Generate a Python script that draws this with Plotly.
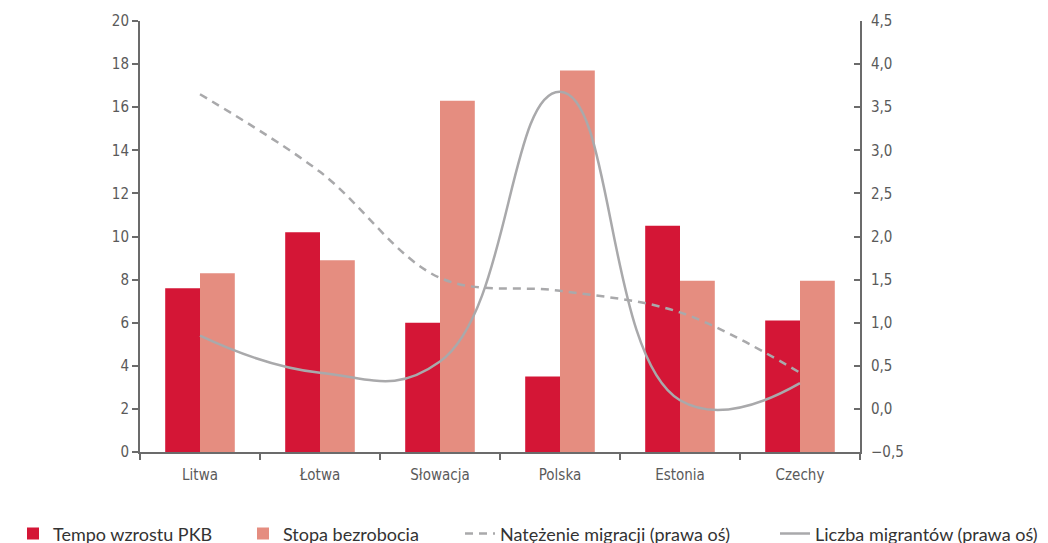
import plotly.graph_objects as go

# Kraje
kraje = ["Litwa", "Łotwa", "Słowacja", "Polska", "Estonia", "Czechy"]

# Lewa oś (%)
tempo_pkb = [7.6, 10.2, 6.0, 3.5, 10.5, 6.1]
stopa_bezrobocia = [8.3, 8.9, 16.3, 17.7, 7.95, 7.95]

# Prawa oś
natezenie_migracji = [3.65, 2.75, 1.52, 1.37, 1.12, 0.42]
liczba_migrantow = [0.85, 0.42, 0.55, 3.68, 0.10, 0.30]

left_ticks = list(range(0, 21, 2))
right_ticks = [-0.5, 0.0, 0.5, 1.0, 1.5, 2.0, 2.5, 3.0, 3.5, 4.0, 4.5]

AXIS_FONT = "DejaVu Sans Condensed, Liberation Sans Narrow, sans-serif"
LEGEND_FONT = "Lato, Open Sans, sans-serif"
AXIS = "#6b6b6b"
TEXT = "#5a5a5a"
LINE_GRAY = "#a9a9ab"

fig = go.Figure()
fig.add_trace(go.Bar(x=kraje, y=tempo_pkb, name="Tempo wzrostu PKB",
                     marker=dict(color="#d41636", line=dict(width=0)),
                     legend="legend"))
fig.add_trace(go.Bar(x=kraje, y=stopa_bezrobocia, name="Stopa bezrobocia",
                     marker=dict(color="#e58d80", line=dict(width=0)),
                     legend="legend2"))
fig.add_trace(go.Scatter(x=kraje, y=natezenie_migracji, name="Natężenie migracji (prawa oś)",
                         yaxis="y2", mode="lines", legend="legend3",
                         line=dict(color=LINE_GRAY, width=2.5, dash="8px,6px",
                                   shape="spline", smoothing=1.0)))
fig.add_trace(go.Scatter(x=kraje, y=liczba_migrantow, name="Liczba migrantów (prawa oś)",
                         yaxis="y2", mode="lines", legend="legend4",
                         line=dict(color=LINE_GRAY, width=2.5,
                                   shape="spline", smoothing=1.3)))


def legend_box(x_px):
    return dict(orientation="h", xref="container", yref="container",
                x=x_px / 1048, xanchor="left", y=0.017, yanchor="middle",
                font=dict(family=LEGEND_FONT, size=18, color="#333333"),
                itemwidth=30, bgcolor="rgba(0,0,0,0)")


fig.update_layout(
    width=1048, height=543,
    margin=dict(l=140, r=188, t=21, b=91, autoexpand=False),
    paper_bgcolor="white", plot_bgcolor="white",
    barmode="group", bargap=0.42, bargroupgap=0,
    separators=", ",
    font=dict(family=AXIS_FONT, color=TEXT, size=15),
    showlegend=True,
    legend=legend_box(13),
    legend2=legend_box(243),
    legend3=legend_box(460),
    legend4=legend_box(775),
    xaxis=dict(type="category", tickson="boundaries", ticks="outside", ticklen=6,
               tickcolor=AXIS, tickwidth=2, showline=True, linecolor=AXIS, linewidth=2,
               showgrid=False, tickfont=dict(size=15, color=TEXT), ticklabelstandoff=8),
    yaxis=dict(range=[0, 20], tickvals=left_ticks, ticks="outside", ticklen=6,
               tickcolor=AXIS, tickwidth=2, showline=True, linecolor=AXIS, linewidth=2,
               showgrid=False, zeroline=False, tickfont=dict(size=15, color=TEXT)),
    yaxis2=dict(range=[-0.5, 4.5], tickvals=right_ticks, tickformat=".1f",
                overlaying="y", side="right", ticks="inside", ticklen=6,
                tickcolor=AXIS, tickwidth=2, showline=True, linecolor=AXIS, linewidth=2,
                showgrid=False, zeroline=False, tickfont=dict(size=15, color=TEXT),
                ticklabelstandoff=6),
)

fig.write_html("out.html")
